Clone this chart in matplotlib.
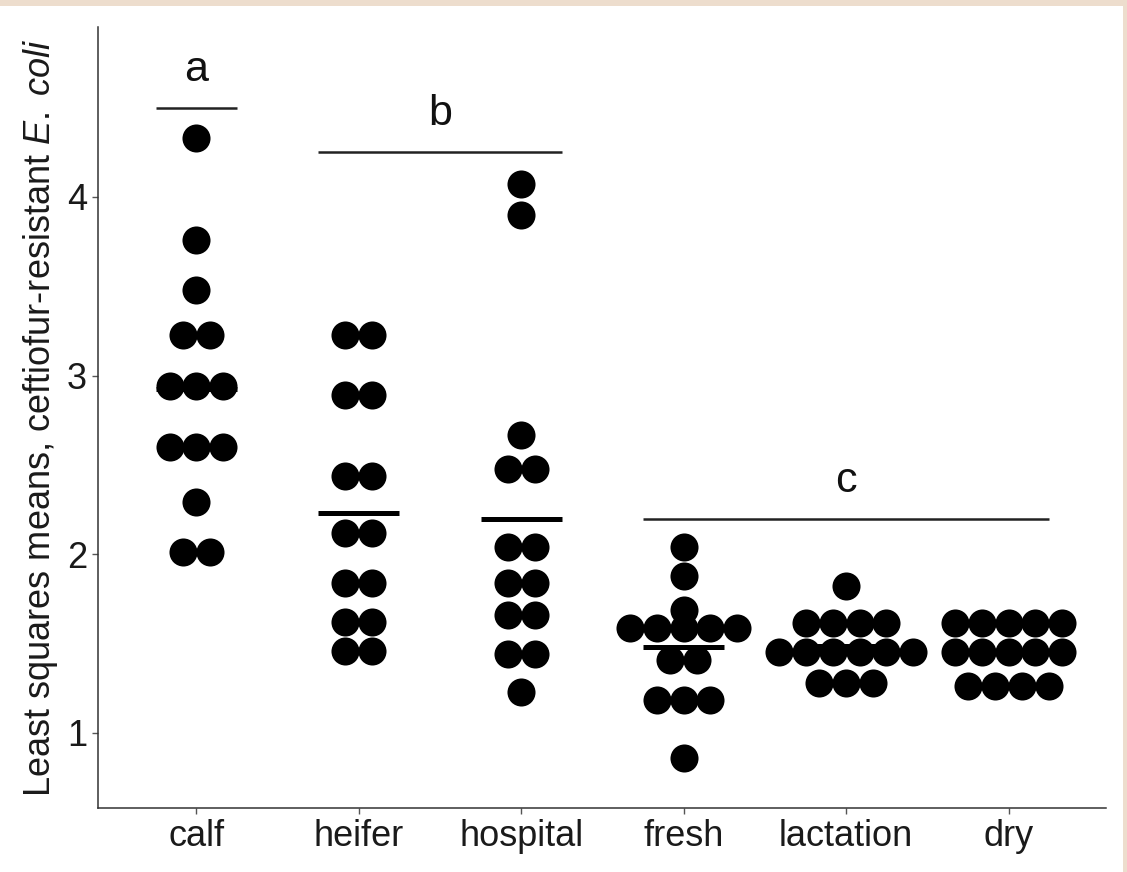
import numpy as np
import matplotlib
matplotlib.use('Agg')
import matplotlib.pyplot as plt
from matplotlib.patches import Rectangle

plt.rcParams['font.family'] = ['Liberation Sans', 'DejaVu Sans']
plt.rcParams['mathtext.fontset'] = 'custom'
plt.rcParams['mathtext.rm'] = 'Liberation Sans'
plt.rcParams['mathtext.it'] = 'Liberation Sans:italic'

groups = ['calf', 'heifer', 'hospital', 'fresh', 'lactation', 'dry']

calf = [4.33, 3.76, 3.48, 3.23, 3.23, 2.94, 2.94, 2.94, 2.60, 2.60, 2.60, 2.29, 2.01, 2.01]
heifer = [3.23, 3.23, 2.89, 2.89, 2.44, 2.44, 2.12, 2.12, 1.84, 1.84, 1.62, 1.62, 1.46, 1.46]
hospital = [4.07, 3.90, 2.67, 2.48, 2.48, 2.04, 2.04, 1.84, 1.84, 1.66, 1.66, 1.44, 1.44, 1.23]
fresh = [2.04, 1.88, 1.69, 1.585, 1.585, 1.585, 1.585, 1.585, 1.41, 1.41, 1.185, 1.185, 1.185, 0.86]
lactation = [1.82, 1.615, 1.615, 1.615, 1.615, 1.455, 1.455, 1.455, 1.455, 1.455, 1.455, 1.28, 1.28, 1.28]
dry = [1.615, 1.615, 1.615, 1.615, 1.615, 1.455, 1.455, 1.455, 1.455, 1.455, 1.26, 1.26, 1.26, 1.26]
values = [calf, heifer, hospital, fresh, lactation, dry]

# significance groups: letter, first and last category index, line height
letters = ['a', 'b', 'c']
letter_first = [0, 1, 3]
letter_last = [0, 2, 5]
letter_levels = [4.5, 4.25, 2.2]


def swarm_x(center, vals, step):
    vals = np.asarray(vals)
    xs = np.empty(len(vals))
    for v in np.unique(vals):
        idx = np.where(vals == v)[0]
        n = len(idx)
        xs[idx] = center + (np.arange(n) - (n - 1) / 2) * step
    return xs


fig = plt.figure(figsize=(11.27, 8.72), dpi=100)
fig.patch.set_facecolor('#EDDDCD')
bg = Rectangle((0, 0), 1123 / 1127, 1 - 6 / 872, transform=fig.transFigure,
               facecolor='white', edgecolor='none', zorder=-10)
fig.patches.append(bg)
ax = fig.add_axes([98 / 1127, 1 - 808 / 872, (1106 - 98) / 1127, (808 - 27) / 872])
ax.set_facecolor('none')
ax.set_zorder(5)

step = 0.165
for i, vals in enumerate(values):
    pos = i + 1
    xs = swarm_x(pos, vals, step)
    ax.plot(xs, vals, 'o', color='black', markersize=20.2, markeredgewidth=0, zorder=3)
    ax.hlines(np.mean(vals), pos - 0.25, pos + 0.25, color='black', linewidth=3.6, zorder=4)

for lab, a, b, lev in zip(letters, letter_first, letter_last, letter_levels):
    x0 = a + 1 - 0.25
    x1 = b + 1 + 0.25
    ax.hlines(lev, x0, x1, color='#222222', linewidth=1.8, zorder=2)
    ax.text((x0 + x1) / 2, lev + 0.15, lab, ha='center', va='baseline', fontsize=31, color='#111111')

ax.set_xlim(0.394, 6.6)
ax.set_ylim(0.58, 4.951)
ax.set_xticks(range(1, len(groups) + 1))
ax.set_xticklabels(groups)
ax.set_yticks([1, 2, 3, 4])

ax.spines['top'].set_visible(False)
ax.spines['right'].set_visible(False)
for s in ['left', 'bottom']:
    ax.spines[s].set_color('#333333')
    ax.spines[s].set_linewidth(1.1)
ax.tick_params(axis='both', length=4, width=1, color='#555555', labelsize=26,
               labelcolor='#1a1a1a', pad=4)

ax.set_ylabel(r'Least squares means, ceftiofur-resistant $\mathit{E.\;coli}$', fontsize=26,
              color='#1a1a1a', labelpad=5)

fig.savefig('out.png', dpi=100, facecolor=fig.get_facecolor())
